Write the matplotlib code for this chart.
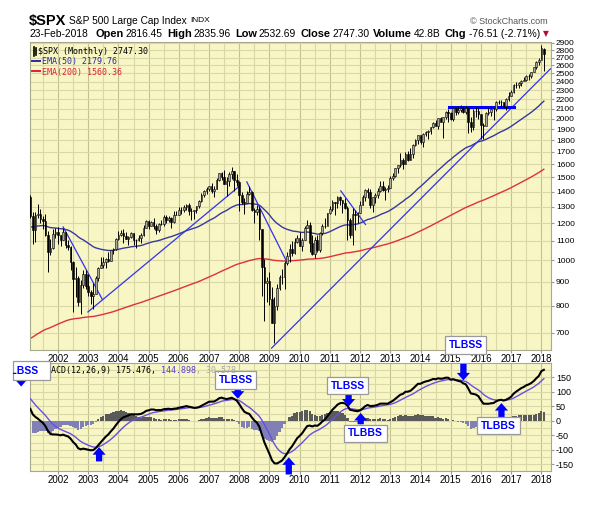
import numpy as np
import pandas as pd
import matplotlib
matplotlib.use('Agg')
import matplotlib.pyplot as plt
from matplotlib.ticker import FixedLocator, FixedFormatter, NullLocator
from matplotlib.transforms import Bbox, TransformedBbox
from matplotlib.patches import Rectangle

plt.rcParams['font.family'] = ['Liberation Sans', 'DejaVu Sans']

# -> data: monthly $SPX, Feb 2001 .. Feb 2018
close = [
    1239.94, 1160.33, 1249.46, 1255.82, 1224.42, 1211.23, 1133.58, 1040.94, 1059.78, 1139.45, 1148.08,
    1130.20, 1106.73, 1147.39, 1076.92, 1067.14, 989.82, 911.62, 916.07, 815.28, 885.76, 936.31, 879.82,
    855.70, 841.15, 848.18, 916.92, 963.59, 974.50, 990.31, 1008.01, 995.97, 1050.71, 1058.20, 1111.92,
    1131.13, 1144.94, 1126.21, 1107.30, 1120.68, 1140.84, 1101.72, 1104.24, 1114.58, 1130.20, 1173.82, 1211.92,
    1181.27, 1203.60, 1180.59, 1156.85, 1191.50, 1191.33, 1234.18, 1220.33, 1228.81, 1207.01, 1249.48, 1248.29,
    1280.08, 1280.66, 1294.83, 1310.61, 1270.09, 1270.20, 1276.66, 1303.82, 1335.85, 1377.94, 1400.63, 1418.30,
    1438.24, 1406.82, 1420.86, 1482.37, 1530.62, 1503.35, 1455.27, 1473.99, 1526.75, 1549.38, 1481.14, 1468.36,
    1378.55, 1330.63, 1322.70, 1385.59, 1400.38, 1280.00, 1267.38, 1282.83, 1166.36, 968.75, 896.24, 903.25,
    825.88, 735.09, 797.87, 872.81, 919.14, 919.32, 987.48, 1020.62, 1057.08, 1036.19, 1095.63, 1115.10,
    1073.87, 1104.49, 1169.43, 1186.69, 1089.41, 1030.71, 1101.60, 1049.33, 1141.20, 1183.26, 1180.55, 1257.64,
    1286.12, 1327.22, 1325.83, 1363.61, 1345.20, 1320.64, 1292.28, 1218.89, 1131.42, 1253.30, 1246.96, 1257.60,
    1312.41, 1365.68, 1408.47, 1397.91, 1310.33, 1362.16, 1379.32, 1406.58, 1440.67, 1412.16, 1416.18, 1426.19,
    1498.11, 1514.68, 1569.19, 1597.57, 1630.74, 1606.28, 1685.73, 1632.97, 1681.55, 1756.54, 1805.81, 1848.36,
    1782.59, 1859.45, 1872.34, 1883.95, 1923.57, 1960.23, 1930.67, 2003.37, 1972.29, 2018.05, 2067.56, 2058.90,
    1994.99, 2104.50, 2067.89, 2085.51, 2107.39, 2063.11, 2103.84, 1972.18, 1920.03, 2079.36, 2080.41, 2043.94,
    1940.24, 1932.23, 2059.74, 2065.30, 2096.95, 2098.86, 2173.60, 2170.95, 2168.27, 2126.15, 2198.81, 2238.83,
    2278.87, 2363.64, 2362.72, 2384.20, 2411.80, 2423.41, 2470.30, 2471.65, 2519.36, 2575.26, 2647.58, 2673.61,
    2823.81, 2747.30,
]
high = [
    1376.4, 1263.5, 1269.3, 1315.9, 1286.6, 1239.8, 1255.8, 1155.4, 1110.6, 1163.4, 1173.0,
    1176.6, 1130.2, 1173.0, 1147.8, 1106.6, 1070.7, 994.5, 965.0, 924.0, 907.4, 951.6, 954.3,
    935.1, 864.6, 895.9, 924.2, 965.4, 1015.3, 1015.4, 1011.0, 1040.3, 1053.8, 1063.7, 1112.6,
    1155.4, 1159.0, 1163.2, 1150.6, 1127.7, 1146.3, 1140.8, 1109.7, 1131.5, 1142.1, 1188.5, 1217.3,
    1217.8, 1212.4, 1229.1, 1191.9, 1199.6, 1219.6, 1245.2, 1245.9, 1243.1, 1233.3, 1270.6, 1275.8,
    1294.9, 1297.6, 1310.9, 1318.2, 1326.7, 1290.7, 1280.4, 1306.7, 1340.3, 1389.5, 1407.9, 1431.8,
    1441.6, 1461.6, 1438.9, 1498.0, 1535.6, 1540.6, 1555.9, 1503.9, 1538.7, 1576.1, 1545.8, 1523.6,
    1471.8, 1396.0, 1359.7, 1404.6, 1440.2, 1404.1, 1292.2, 1313.2, 1303.0, 1167.0, 1007.5, 918.9,
    943.9, 875.0, 833.0, 888.7, 930.2, 956.2, 996.7, 1039.5, 1080.2, 1101.4, 1113.7, 1130.4,
    1150.5, 1112.4, 1180.2, 1219.8, 1206.2, 1131.2, 1121.0, 1129.2, 1148.9, 1196.1, 1227.1, 1262.6,
    1302.7, 1344.1, 1332.3, 1366.8, 1370.6, 1345.6, 1356.5, 1307.4, 1229.3, 1293.0, 1277.6, 1269.4,
    1333.5, 1378.0, 1419.2, 1422.4, 1415.3, 1363.5, 1391.7, 1426.7, 1474.5, 1471.0, 1434.3, 1448.0,
    1509.9, 1530.9, 1570.3, 1597.6, 1687.2, 1654.2, 1698.8, 1709.7, 1729.9, 1765.6, 1813.6, 1849.4,
    1850.8, 1867.9, 1884.0, 1897.3, 1924.0, 1968.2, 1991.4, 2005.0, 2019.3, 2018.2, 2075.8, 2093.6,
    2064.4, 2119.6, 2117.5, 2125.9, 2134.7, 2129.9, 2132.8, 2113.0, 2021.0, 2094.3, 2116.5, 2104.3,
    2038.2, 1963.0, 2072.2, 2111.1, 2103.5, 2120.6, 2177.1, 2193.8, 2187.9, 2169.6, 2214.1, 2277.5,
    2301.0, 2371.5, 2401.0, 2398.2, 2418.7, 2453.8, 2484.0, 2490.9, 2519.4, 2583.0, 2657.7, 2695.0,
    2872.9, 2835.96,
]
low = [
    1228.3, 1081.2, 1092.0, 1232.0, 1203.0, 1165.5, 1124.1, 944.8, 1026.8, 1054.3, 1114.2,
    1081.7, 1074.4, 1103.1, 1063.5, 1049.0, 952.9, 775.7, 833.4, 800.2, 768.6, 872.1, 869.4,
    840.3, 806.3, 788.9, 847.9, 902.8, 963.2, 962.1, 960.8, 990.4, 994.7, 1031.2, 1053.4,
    1105.1, 1124.4, 1087.2, 1107.2, 1076.3, 1113.3, 1078.8, 1060.7, 1101.3, 1090.2, 1127.6, 1173.4,
    1163.8, 1181.0, 1163.7, 1136.2, 1146.2, 1188.3, 1183.6, 1201.1, 1205.4, 1168.2, 1201.1, 1246.6,
    1245.7, 1253.6, 1268.4, 1280.7, 1245.3, 1219.3, 1224.5, 1261.3, 1290.9, 1327.1, 1361.0, 1385.9,
    1404.0, 1389.4, 1364.0, 1416.4, 1476.7, 1484.2, 1454.3, 1370.6, 1439.3, 1489.6, 1406.1, 1435.7,
    1270.1, 1316.8, 1257.0, 1324.4, 1373.7, 1272.0, 1200.4, 1247.5, 1106.4, 839.8, 741.0, 815.7,
    804.3, 734.5, 666.8, 783.3, 866.1, 888.9, 869.3, 978.5, 992.0, 1020.2, 1029.4, 1085.9,
    1071.6, 1044.5, 1105.2, 1170.7, 1040.8, 1028.3, 1010.9, 1040.0, 1041.3, 1131.9, 1173.0, 1186.6,
    1257.0, 1275.1, 1249.1, 1294.7, 1311.8, 1258.1, 1282.9, 1101.5, 1114.2, 1074.8, 1158.7, 1202.4,
    1258.9, 1312.0, 1340.0, 1357.4, 1292.0, 1266.7, 1325.4, 1354.7, 1396.6, 1403.3, 1343.4, 1398.1,
    1426.2, 1485.0, 1501.5, 1536.0, 1581.3, 1560.3, 1604.6, 1627.5, 1633.4, 1646.5, 1746.2, 1768.0,
    1770.5, 1737.9, 1834.4, 1814.4, 1859.8, 1916.0, 1930.0, 1904.8, 1964.0, 1820.7, 2001.0, 1972.6,
    1988.1, 1981.0, 2039.7, 2048.4, 2067.9, 2056.3, 2044.0, 1867.0, 1871.9, 1893.7, 2019.4, 1993.3,
    1812.3, 1810.1, 1937.1, 2033.8, 2025.9, 1991.7, 2074.0, 2147.6, 2119.1, 2114.7, 2083.8, 2187.4,
    2233.6, 2271.7, 2322.3, 2329.0, 2352.7, 2405.7, 2407.7, 2417.4, 2446.6, 2520.4, 2557.5, 2605.5,
    2682.4, 2532.69,
]
last_open = 2816.45
# closes Jan 1996 .. Jan 2001, only to warm up the MACD averages
warm_close = [
    636.02, 640.43, 645.50, 654.17, 669.12, 670.63, 639.95, 651.99, 687.31, 705.27, 757.02, 740.74,
    786.16, 790.82, 757.12, 801.34, 848.28, 885.14, 954.31, 899.47, 947.28, 914.62, 955.40, 970.43,
    980.28, 1049.34, 1101.75, 1111.75, 1090.82, 1133.84, 1120.67, 957.28, 1017.01, 1098.67, 1163.63, 1229.23,
    1279.64, 1238.33, 1286.37, 1335.18, 1301.84, 1372.71, 1328.72, 1320.41, 1282.71, 1362.93, 1388.91, 1469.25,
    1394.46, 1366.42, 1498.58, 1452.43, 1420.60, 1454.60, 1430.83, 1517.68, 1436.51, 1429.40, 1314.95, 1320.28,
    1366.01,
]
ema50_seed = 1175.0   # EMA values at Jan 2001
ema200_seed = 676.0

# hand drawn trend lines (date, price)
trend_lines = [
    ([2002.17, 2003.46], [1177, 827]),
    ([2002.99, 2008.02], [776, 1440]),
    ([2008.25, 2009.60], [1468, 985]),
    ([2009.07, 2018.30], [650, 2554]),
    ([2011.36, 2012.18], [1405, 1191]),
]
resist_line = ([2014.95, 2017.10], [2122, 2122])

# signal tags on the MACD panel: text, text pos, arrow tail, arrow tip
tags = [
    ('TLBSS', (2007.88, 140), (2007.95, 119), (2007.95, 76)),
    ('TLBSS', (2011.59, 121), (2011.62, 92), (2011.62, 49)),
    ('TLBBS', (2012.18, -43), (2012.02, -12), (2012.02, 27)),
    ('TLBSS', (2015.49, 261), (2015.42, 196), (2015.42, 139)),
    ('TLBBS', (2016.58, -17), (2016.68, 12), (2016.68, 61)),
]
bare_arrows = [((2003.36, -140), (2003.36, -91)), ((2009.64, -185), (2009.64, -126))]
left_tag_pos = (2000.80, 171)
left_arrow = ((2000.78, 150), (2000.78, 118))

price_ticks = list(range(700, 3000, 100))
macd_ticks = [-150, -100, -50, 0, 50, 100, 150]
years = list(range(2002, 2019))

# -> prepare
close = np.array(close)
high = np.array(high)
low = np.array(low)
months = pd.date_range('2001-02-01', periods=len(close), freq='MS')
t = np.array(months.year + (months.month - 1) / 12.0)
opens = np.r_[warm_close[-1], close[:-1]]
opens[-1] = last_open

ema50 = pd.Series([ema50_seed] + list(close)).ewm(span=50, adjust=False).mean().values[1:]
ema200 = pd.Series([ema200_seed] + list(close)).ewm(span=200, adjust=False).mean().values[1:]

allc = pd.Series(warm_close + list(close))
macd = allc.ewm(span=12, adjust=False).mean() - allc.ewm(span=26, adjust=False).mean()
sig = macd.ewm(span=9, adjust=False).mean()
n = len(close)
macd = macd.values[-n:]
sig = sig.values[-n:]
hist = macd - sig

# -> figure
W, H = 615, 505
fig = plt.figure(figsize=(W / 100, H / 100), dpi=100)


def px_box(l, t_, r, b):
    return [l / W, 1 - b / H, (r - l) / W, (b - t_) / H]


ax1 = fig.add_axes(px_box(30, 42, 551, 350))
ax2 = fig.add_axes(px_box(30, 363, 551, 471))

BG = '#F7F6C4'
GRID = '#D9D8A6'
GRID_Y = '#C2C190'
xlim = (2001.073, 2018.32)

for ax in (ax1, ax2):
    ax.set_facecolor(BG)
    ax.set_xlim(*xlim)
    for s in ax.spines.values():
        s.set_color('#A9A98C')
        s.set_linewidth(0.8)
    for hy in np.arange(2001.5, 2018.6, 0.5):
        ax.axvline(hy, color=GRID_Y if hy % 1 == 0 else GRID, lw=0.8, zorder=0)
    ax.xaxis.set_major_locator(FixedLocator(years))
    ax.xaxis.set_major_formatter(FixedFormatter([str(y) for y in years]))
    ax.xaxis.set_minor_locator(NullLocator())
    ax.tick_params(axis='x', labelsize=7, length=2, pad=1, color='#999999')
    ax.yaxis.tick_right()
    ax.tick_params(axis='y', labelsize=6.5, length=2, pad=1.5, color='#999999')

# top panel
ax1.set_yscale('log')
ax1.set_ylim(644, 2914)
ax1.yaxis.set_major_locator(FixedLocator(price_ticks))
ax1.yaxis.set_major_formatter(FixedFormatter([str(v) for v in price_ticks]))
ax1.yaxis.set_minor_locator(NullLocator())
ax1.tick_params(axis='y', labelsize=6)
for v in price_ticks:
    ax1.axhline(v, color=GRID, lw=0.8, zorder=0)

ax1.plot(t, ema200, color='#E0303C', lw=1.0, zorder=2)
ax1.plot(t, ema50, color='#3838A0', lw=1.0, zorder=2)
for xs, ys in trend_lines:
    ax1.plot(xs, ys, color='#3333EE', lw=0.9, zorder=3)
ax1.plot(*resist_line, color='#0000FF', lw=2.2, zorder=3)

up = close >= opens
ax1.vlines(t, low, high, color='black', lw=0.7, zorder=4)
ax1.bar(t[up], close[up] - opens[up], bottom=opens[up], width=0.055,
        facecolor='#A8A89C', edgecolor='black', lw=0.4, zorder=5)
ax1.bar(t[~up], opens[~up] - close[~up], bottom=close[~up], width=0.055,
        facecolor='black', edgecolor='black', lw=0.4, zorder=5)

mono = 'DejaVu Sans Mono'
ax1.text(0.016, 0.985, '$SPX (Monthly) 2747.30', transform=ax1.transAxes, family=mono,
         fontsize=6, va='top', ha='left')
ax1.text(0.023, 0.95, 'EMA(50) 2179.76', transform=ax1.transAxes, family=mono,
         fontsize=6, va='top', ha='left', color='#2B2BA0')
ax1.text(0.023, 0.917, 'EMA(200) 1560.36', transform=ax1.transAxes, family=mono,
         fontsize=6, va='top', ha='left', color='#E0203A')
ax1.plot([0.004, 0.02], [0.939, 0.939], transform=ax1.transAxes, color='#2B2BA0', lw=1.4)
ax1.plot([0.004, 0.02], [0.906, 0.906], transform=ax1.transAxes, color='#E0203A', lw=1.4)
ax1.plot([0.007, 0.007], [0.955, 0.985], transform=ax1.transAxes, color='black', lw=1.2)
ax1.plot([0.012, 0.012], [0.958, 0.982], transform=ax1.transAxes, color='black', lw=1.2)

# MACD panel
ax2.set_ylim(-173, 199)
ax2.yaxis.set_major_locator(FixedLocator(macd_ticks))
ax2.yaxis.set_major_formatter(FixedFormatter([str(v) for v in macd_ticks]))
for v in range(-150, 200, 25):
    ax2.axhline(v, color=GRID, lw=0.8, zorder=0)
ax2.bar(t, hist, width=1 / 12 * 0.92, color=np.where(hist >= 0, '#5A5A5A', '#8080B6'), zorder=2)
ax2.plot(t, sig, color='#6A4FE0', lw=1.0, zorder=3)
ax2.plot(t, macd, color='black', lw=1.5, zorder=4)

renderer = fig.canvas.get_renderer()


def write_row(parts, x, y):
    for s, size, weight, color, gap, fam in parts:
        txt = fig.text(x / W, 1 - y / H, s, fontsize=size, fontweight=weight, color=color,
                       va='center', ha='left', family=fam)
        x += txt.get_window_extent(renderer).width + gap
    return x


sans = ['Liberation Sans', 'DejaVu Sans']
write_row([('MACD(12,26,9) 175.476, ', 6, 'normal', 'black', 0, mono),
           ('144.898', 6, 'normal', '#5A3FD0', 0, mono),
           (', 30.578', 6, 'normal', '#A8A8A8', 0, mono)], 46, 370.5)

arrow_style = 'simple,head_length=0.6,head_width=1.05,tail_width=0.5'
tag_box = dict(boxstyle='square,pad=0.35', fc='white', ec='#9A9A9A', lw=0.9)
for label, tpos, tail, tip in tags:
    ax2.annotate('', xy=tip, xytext=tail, annotation_clip=False, zorder=9,
                 arrowprops=dict(arrowstyle=arrow_style, fc='#0000FF', ec='none',
                                 mutation_scale=9, shrinkA=0, shrinkB=0))
    ax2.text(*tpos, label, ha='center', va='center', fontsize=7.5, fontweight='bold',
             color='#0000FF', bbox=tag_box, clip_on=False, zorder=10)
for tail, tip in bare_arrows:
    ax2.annotate('', xy=tip, xytext=tail, annotation_clip=False, zorder=9,
                 arrowprops=dict(arrowstyle=arrow_style, fc='#0000FF', ec='none',
                                 mutation_scale=9, shrinkA=0, shrinkB=0, clip_on=True))

# left tag, cut off at the image edge
clipbb = TransformedBbox(Bbox([[13 / W, 0], [1, 1]]), fig.transFigure)
arr = ax2.annotate('', xy=left_arrow[1], xytext=left_arrow[0], annotation_clip=False, zorder=9,
                   arrowprops=dict(arrowstyle=arrow_style, fc='#0000FF', ec='none',
                                   mutation_scale=9, shrinkA=0, shrinkB=0))
arr.arrow_patch.set_clip_box(clipbb)
fig.add_artist(Rectangle((13 / W, 1 - 380 / H), 37 / W, 19 / H, transform=fig.transFigure,
                         fc='white', ec='#9A9A9A', lw=0.9, zorder=10))
left_tag = ax2.text(*left_tag_pos, 'TLBSS', ha='center', va='center', fontsize=7.5,
                    fontweight='bold', color='#0000FF', zorder=11)
left_tag.remove()
fig.add_artist(left_tag)
left_tag.set_transform(ax2.transData)
left_tag.set_clip_path(None)
left_tag.set_clip_box(clipbb)
left_tag.set_clip_on(True)

# header
write_row([('$SPX', 10.5, 'bold', 'black', 3, sans),
           ('S&P 500 Large Cap Index', 7.3, 'normal', 'black', 3, sans),
           ('INDX', 6, 'normal', 'black', 0, sans)], 29, 21)
fig.text(548 / W, 1 - 21 / H, '\u00a9 StockCharts.com', fontsize=6.5, color='#555555',
         ha='right', va='center')
write_row([('23-Feb-2018', 7.4, 'normal', 'black', 8, sans),
           ('Open', 7.9, 'bold', 'black', 2, sans),
           ('2816.45', 7.4, 'normal', 'black', 4, sans),
           ('High', 7.9, 'bold', 'black', 2, sans),
           ('2835.96', 7.4, 'normal', 'black', 4, sans),
           ('Low', 7.9, 'bold', 'black', 2, sans),
           ('2532.69', 7.4, 'normal', 'black', 4, sans),
           ('Close', 7.9, 'bold', 'black', 2, sans),
           ('2747.30', 7.4, 'normal', 'black', 4, sans),
           ('Volume', 7.9, 'bold', 'black', 2, sans),
           ('42.8B', 7.4, 'normal', 'black', 4, sans),
           ('Chg', 7.9, 'bold', 'black', 2, sans),
           ('-76.51 (-2.71%)', 7.4, 'normal', 'black', 3, sans),
           ('\u25bc', 5.5, 'normal', '#B01030', 0, ['DejaVu Sans'])], 29, 34)

fig.savefig('out.png', dpi=100, facecolor='white')
